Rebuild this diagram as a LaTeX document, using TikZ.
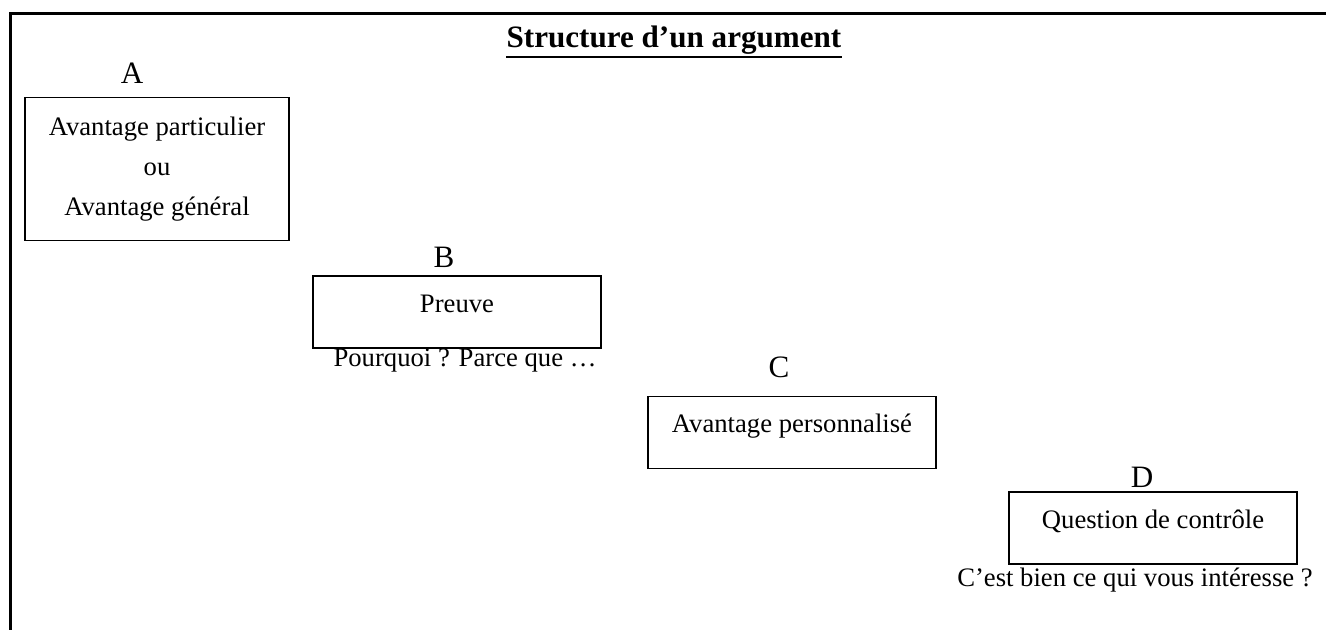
\documentclass[tikz,border=0pt]{standalone}
\usepackage{fontspec}
\setmainfont{Liberation Serif}
\begin{document}
\begin{tikzpicture}[x=0.45pt,y=-0.45pt,
		box/.style={draw,line width=0.7pt,inner sep=0pt,minimum width=129.6pt,minimum height=32.4pt,font=\fontsize{12}{18}\selectfont},
		single/.style={text height=8pt,text depth=8pt},
		lbl/.style={anchor=base,font=\fontsize{14}{16}\selectfont},
		txt/.style={anchor=base,font=\fontsize{12}{14}\selectfont}]
		% canvas
		\useasboundingbox (0,0) rectangle (1326,630);
		% outer frame
		\coordinate (framebl) at (10,640);
		\coordinate (frametl) at (10,13);
		\coordinate (frametr) at (1340,13);
		\draw[line width=1.35pt] (framebl) -- (frametl) -- (frametr);
		% title
		\node[anchor=base,inner xsep=0pt,font=\bfseries\fontsize{14}{16}\selectfont] (title) at (674,47) {Structure d'un argument};
		\draw[line width=0.9pt] ([yshift=-4.4pt]title.base west) -- ([yshift=-4.4pt]title.base east); % underline
		% A
		\node[lbl] (lettera) at (132,83) {A};
		\node[box,minimum width=118.8pt,minimum height=64.4pt,align=center] (avantage) at (157,169) {Avantage particulier\\ou\\Avantage général};
		% B
		\node[lbl] (letterb) at (444,267) {B};
		\node[box,single] (preuve) at (457,312) {Preuve};
		\node[txt] (pourquoi) at (465,366) {Pourquoi ? Parce que …};
		% C
		\node[lbl] (letterc) at (779,377) {C};
		\node[box,single] (perso) at (792,432.5) {Avantage personnalisé};
		% D
		\node[lbl] (letterd) at (1142,487) {D};
		\node[box,single] (controle) at (1153,528) {Question de contrôle};
		\node[txt] (interesse) at (1135,586) {C'est bien ce qui vous intéresse ?};
	\end{tikzpicture}
\end{document}
